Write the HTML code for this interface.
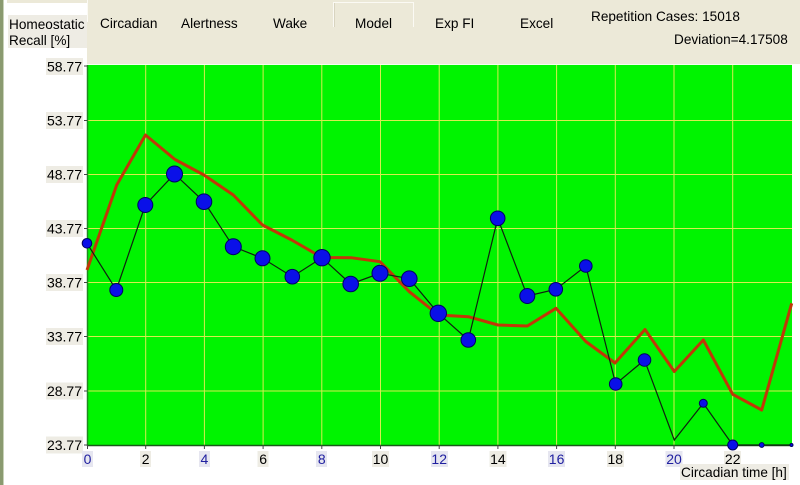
<!DOCTYPE html>
<html><head><meta charset="utf-8"><style>
html,body{margin:0;padding:0;background:#fff;}
body{width:800px;height:485px;overflow:hidden;position:relative;font-family:"Liberation Sans",Arial,sans-serif;}
svg{position:absolute;left:0;top:0;}
</style></head><body>
<svg width="800" height="485" viewBox="0 0 800 485" xmlns="http://www.w3.org/2000/svg" font-family="Liberation Sans, Arial, sans-serif">
  <rect x="0" y="0" width="800" height="485" fill="#ffffff"/>
  <rect x="7" y="0" width="793" height="3" fill="#ece9d8"/>
  <rect x="87" y="0" width="713" height="64" fill="#ece9d8"/>
  <rect x="0" y="0" width="3" height="485" fill="#8a9a70"/>
  <rect x="3" y="0" width="1" height="485" fill="#c8d2b8"/>
  <line x1="87.5" y1="0" x2="87.5" y2="22" stroke="#fbfaf4" stroke-width="1"/>
  <polyline points="333.5,27 333.5,2.5 413.5,2.5 413.5,27" fill="none" stroke="#fbfaf4" stroke-width="1"/>
  <line x1="334.5" y1="3" x2="334.5" y2="27" stroke="#d8d4c0" stroke-width="1"/>
  <rect x="8" y="15" width="79" height="33" fill="#eeece4"/>
  <text x="9" y="29" font-size="13.6" fill="#000">Homeostatic</text>
  <text x="9" y="45" font-size="13.6" fill="#000">Recall [%]</text>
  <g font-size="13.6" fill="#000">
    <text x="100" y="28">Circadian</text>
    <text x="181" y="28">Alertness</text>
    <text x="273" y="28">Wake</text>
    <text x="355" y="28">Model</text>
    <text x="435" y="28">Exp FI</text>
    <text x="520" y="28">Excel</text>
    <text x="591" y="21">Repetition Cases: 15018</text>
    <text x="674" y="44">Deviation=4.17508</text>
  </g>
  <line x1="87" y1="64.5" x2="792" y2="64.5" stroke="#f4fff0" stroke-width="1"/>
  <rect x="87" y="65" width="705" height="380" fill="#00f400"/>
  <g stroke="#d8ec50" stroke-width="1">
    <line x1="145.7" y1="65" x2="145.7" y2="445"/>
    <line x1="204.4" y1="65" x2="204.4" y2="445"/>
    <line x1="263.1" y1="65" x2="263.1" y2="445"/>
    <line x1="321.8" y1="65" x2="321.8" y2="445"/>
    <line x1="380.5" y1="65" x2="380.5" y2="445"/>
    <line x1="439.2" y1="65" x2="439.2" y2="445"/>
    <line x1="497.9" y1="65" x2="497.9" y2="445"/>
    <line x1="556.6" y1="65" x2="556.6" y2="445"/>
    <line x1="615.3" y1="65" x2="615.3" y2="445"/>
    <line x1="674" y1="65" x2="674" y2="445"/>
    <line x1="732.7" y1="65" x2="732.7" y2="445"/>
    <line x1="87" y1="120.5" x2="792" y2="120.5"/>
    <line x1="87" y1="174.5" x2="792" y2="174.5"/>
    <line x1="87" y1="228.5" x2="792" y2="228.5"/>
    <line x1="87" y1="282.5" x2="792" y2="282.5"/>
    <line x1="87" y1="336.5" x2="792" y2="336.5"/>
    <line x1="87" y1="391" x2="792" y2="391"/>
  </g>
  <line x1="87.5" y1="65" x2="87.5" y2="446" stroke="#208a20" stroke-width="1.5"/>
  <line x1="87" y1="445.5" x2="792" y2="445.5" stroke="#1a5a1a" stroke-width="1.5"/>
  <g stroke="#444" stroke-width="1">
    <line x1="84" y1="66" x2="87" y2="66"/>
    <line x1="84" y1="120.5" x2="87" y2="120.5"/>
    <line x1="84" y1="174.5" x2="87" y2="174.5"/>
    <line x1="84" y1="228.5" x2="87" y2="228.5"/>
    <line x1="84" y1="282.5" x2="87" y2="282.5"/>
    <line x1="84" y1="336.5" x2="87" y2="336.5"/>
    <line x1="84" y1="391" x2="87" y2="391"/>
    <line x1="84" y1="445" x2="87" y2="445"/>
  </g>
  <g stroke="#444" stroke-width="1">
    <line x1="87.5" y1="445" x2="87.5" y2="449"/>
    <line x1="145.7" y1="445" x2="145.7" y2="449"/>
    <line x1="204.4" y1="445" x2="204.4" y2="449"/>
    <line x1="263.1" y1="445" x2="263.1" y2="449"/>
    <line x1="321.8" y1="445" x2="321.8" y2="449"/>
    <line x1="380.5" y1="445" x2="380.5" y2="449"/>
    <line x1="439.2" y1="445" x2="439.2" y2="449"/>
    <line x1="497.9" y1="445" x2="497.9" y2="449"/>
    <line x1="556.6" y1="445" x2="556.6" y2="449"/>
    <line x1="615.3" y1="445" x2="615.3" y2="449"/>
    <line x1="674" y1="445" x2="674" y2="449"/>
    <line x1="732.7" y1="445" x2="732.7" y2="449"/>
  </g>
  <g font-size="14" fill="#000" text-anchor="end">
    <rect x="46" y="58" width="37" height="17" fill="#eeece4"/>
    <text x="82" y="71.5">58.77</text>
    <rect x="46" y="112" width="37" height="17" fill="#eeece4"/>
    <text x="82" y="125.5">53.77</text>
    <rect x="46" y="166" width="37" height="17" fill="#eeece4"/>
    <text x="82" y="179.5">48.77</text>
    <rect x="46" y="220" width="37" height="17" fill="#eeece4"/>
    <text x="82" y="233.5">43.77</text>
    <rect x="46" y="274" width="37" height="17" fill="#eeece4"/>
    <text x="82" y="287.5">38.77</text>
    <rect x="46" y="328" width="37" height="17" fill="#eeece4"/>
    <text x="82" y="341.5">33.77</text>
    <rect x="46" y="382.5" width="37" height="17" fill="#eeece4"/>
    <text x="82" y="396">28.77</text>
    <rect x="46" y="436.5" width="37" height="17" fill="#eeece4"/>
    <text x="82" y="450">23.77</text>
  </g>
  <g font-size="14" text-anchor="middle">
    <rect x="82" y="451" width="11" height="16" fill="#e6e6f0"/>
    <text x="87.5" y="464" fill="#2020a0">0</text>
    <rect x="140" y="451" width="11" height="16" fill="#eeece4"/>
    <text x="145.7" y="464" fill="#000">2</text>
    <rect x="199" y="451" width="11" height="16" fill="#e6e6f0"/>
    <text x="204.4" y="464" fill="#2020a0">4</text>
    <rect x="257.5" y="451" width="11" height="16" fill="#eeece4"/>
    <text x="263.1" y="464" fill="#000">6</text>
    <rect x="316" y="451" width="11" height="16" fill="#e6e6f0"/>
    <text x="321.8" y="464" fill="#2020a0">8</text>
    <rect x="372" y="451" width="17" height="16" fill="#eeece4"/>
    <text x="380.5" y="464" fill="#000">10</text>
    <rect x="431" y="451" width="17" height="16" fill="#e6e6f0"/>
    <text x="439.2" y="464" fill="#2020a0">12</text>
    <rect x="489.5" y="451" width="17" height="16" fill="#eeece4"/>
    <text x="497.9" y="464" fill="#000">14</text>
    <rect x="548" y="451" width="17" height="16" fill="#e6e6f0"/>
    <text x="556.6" y="464" fill="#2020a0">16</text>
    <rect x="607" y="451" width="17" height="16" fill="#eeece4"/>
    <text x="615.3" y="464" fill="#000">18</text>
    <rect x="665.5" y="451" width="17" height="16" fill="#e6e6f0"/>
    <text x="674" y="464" fill="#2020a0">20</text>
    <rect x="724" y="451" width="17" height="16" fill="#eeece4"/>
    <text x="732.7" y="464" fill="#000">22</text>
  </g>
  <rect x="680" y="464" width="109" height="16" fill="#eeece4"/>
  <text x="681" y="477" font-size="13.6" fill="#000">Circadian time [h]</text>
  <polyline fill="none" stroke="#c03808" stroke-width="3" stroke-linejoin="round"
    points="87,270 116.7,185 145.5,135 175,159.5 204,175 233.3,195 262.5,225 291.7,240 322,257.5 351,257.7 380,261.7 409.3,291.7 438.5,315 468.3,316.7 498,325 527.3,326 556,308.3 585.8,341.5 615,363 645,329.5 674.3,371.5 703.3,340 732.7,394.3 761.7,410 791.7,303.3"/>
  <polyline fill="none" stroke="#102010" stroke-width="1.2"
    points="87,243.3 116.3,290 145.3,205 174.5,174 204,201.7 233.3,246.7 262.5,258.3 292.3,276.7 322,257.7 350.7,284 380,273.3 409.3,278.7 438.3,313.3 468.3,340 497.7,218.3 527.3,296 555.8,289.3 585.8,266 615.7,384 644.5,360 674.3,440 703.3,403.3 732.7,445 761.7,445 791.5,445"/>
  <g fill="#0a10e8" stroke="#000060" stroke-width="1">
    <circle cx="87" cy="243.3" r="4.8"/>
    <circle cx="116.3" cy="290" r="6.5"/>
    <circle cx="145.3" cy="205" r="7.5"/>
    <circle cx="174.5" cy="174" r="8"/>
    <circle cx="204" cy="201.7" r="7.8"/>
    <circle cx="233.3" cy="246.7" r="8"/>
    <circle cx="262.5" cy="258.3" r="7.5"/>
    <circle cx="292.3" cy="276.7" r="7.3"/>
    <circle cx="322" cy="257.7" r="8.2"/>
    <circle cx="350.7" cy="284" r="7.8"/>
    <circle cx="380" cy="273.3" r="8"/>
    <circle cx="409.3" cy="278.7" r="7.8"/>
    <circle cx="438.3" cy="313.3" r="8.2"/>
    <circle cx="468.3" cy="340" r="7.3"/>
    <circle cx="497.7" cy="218.3" r="7.3"/>
    <circle cx="527.3" cy="296" r="7.5"/>
    <circle cx="555.8" cy="289.3" r="6.8"/>
    <circle cx="585.8" cy="266" r="6.3"/>
    <circle cx="615.7" cy="384" r="6.3"/>
    <circle cx="644.5" cy="360" r="6.3"/>
    <circle cx="703.3" cy="403.3" r="4"/>
    <circle cx="732.7" cy="445" r="5"/>
    <circle cx="761.7" cy="445" r="2.4"/>
    <circle cx="791.5" cy="445" r="1.5"/>
  </g>
</svg>
</body></html>
